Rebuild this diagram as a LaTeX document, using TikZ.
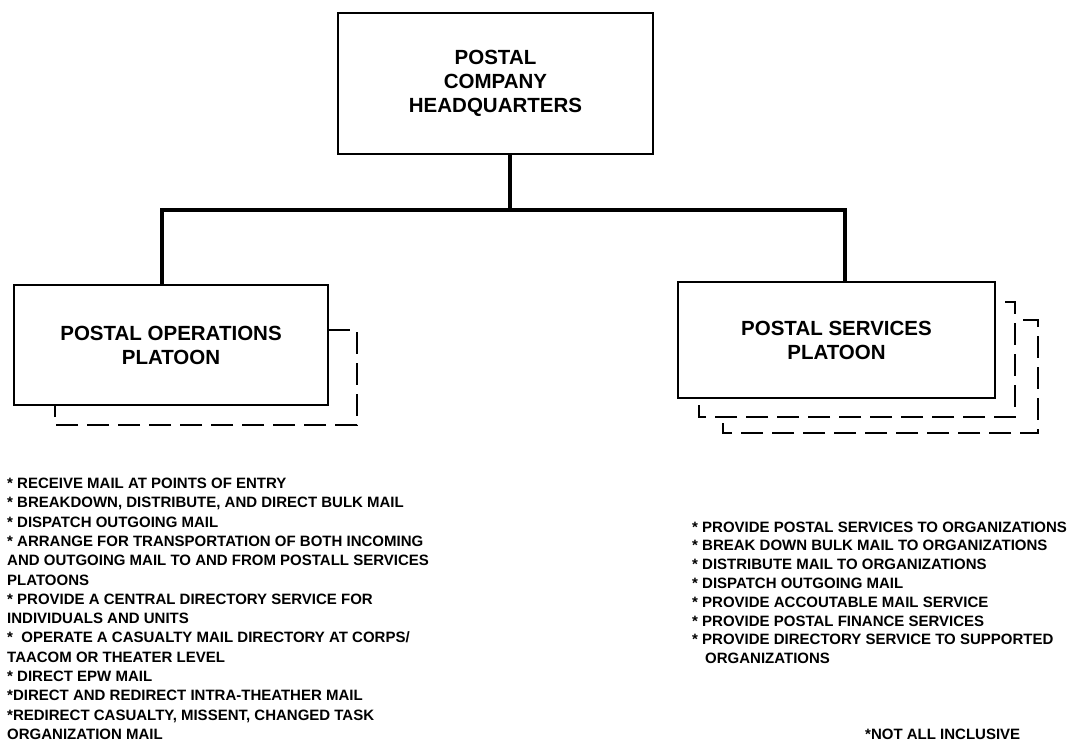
\documentclass[tikz,border=0pt]{standalone}
\usepackage{fontspec}
\setmainfont{Liberation Sans}
\begin{document}
\begin{tikzpicture}[x=1pt,y=-1pt,
  box/.style={draw,line width=2.4pt,inner sep=0pt,align=center,
    font=\bfseries\fontsize{20.5}{24}\selectfont},
  conn/.style={line width=4.2pt,line cap=rect},
  ghost/.style={line width=2pt,dash pattern=on 22pt off 9pt},
  item/.style={anchor=base west,inner sep=0pt,
    font=\bfseries\fontsize{15}{18}\selectfont}]
\useasboundingbox (0,0) rectangle (1084,743);
\clip (0,0) rectangle (1084,743);

% organisation boxes
\node[box,minimum width=315pt,minimum height=141pt] (hq) at (495.5,83.5)
  {POSTAL\\COMPANY\\HEADQUARTERS};
\node[box,minimum width=314pt,minimum height=120pt] (ops) at (171,345)
  {POSTAL OPERATIONS\\PLATOON};
\node[box,line width=2.1pt,minimum width=317pt,minimum height=116pt] (svc) at (836.5,340)
  {POSTAL SERVICES\\PLATOON};

% connector tree
\coordinate (j) at (510,210);
\coordinate (lc) at (162,210);
\coordinate (rc) at (845,210);
\draw[conn] (hq.south -| j) -- (j);
\draw[conn] (ops.north -| lc) -- (lc) -- (rc) -- (svc.north -| rc);

% dashed outlines behind the platoons
\coordinate (oa) at (328,330);
\coordinate (ob) at (357,330);
\coordinate (oc) at (357,425);
\coordinate (od) at (55,425);
\draw[ghost] (oa) -- (ob) -- (oc) -- (od) -- (ops.south -| od);

\coordinate (sa) at (1005,302);
\coordinate (sb) at (1015,302);
\coordinate (sc) at (1015,417);
\coordinate (sd) at (699,417);
\coordinate (se) at (699,405);
\draw[ghost] (sa) -- (sb) -- (sc) -- (sd) -- (se);

\coordinate (ta) at (1023,320);
\coordinate (tb) at (1038,320);
\coordinate (tc) at (1038,433);
\coordinate (td) at (723,433);
\coordinate (te) at (723,423);
\draw[ghost] (ta) -- (tb) -- (tc) -- (td) -- (te);

% duties of the operations platoon
\node[item] (o1) at (7,488.5) {* RECEIVE MAIL AT POINTS OF ENTRY};
\node[item] (o2) at (7,507.8) {* BREAKDOWN, DISTRIBUTE, AND DIRECT BULK MAIL};
\node[item] (o3) at (7,527.1) {* DISPATCH OUTGOING MAIL};
\node[item] (o4) at (7,546.4) {* ARRANGE FOR TRANSPORTATION OF BOTH INCOMING};
\node[item] (o5) at (7,565.7) {AND OUTGOING MAIL TO AND FROM POSTALL SERVICES};
\node[item] (o6) at (7,585.0) {PLATOONS};
\node[item] (o7) at (7,604.3) {* PROVIDE A CENTRAL DIRECTORY SERVICE FOR};
\node[item] (o8) at (7,623.6) {INDIVIDUALS AND UNITS};
\node[item] (o9) at (7,642.9) {*\ \ OPERATE A CASUALTY MAIL DIRECTORY AT CORPS/};
\node[item] (o10) at (7,662.2) {TAACOM OR THEATER LEVEL};
\node[item] (o11) at (7,681.5) {* DIRECT EPW MAIL};
\node[item] (o12) at (7,700.8) {*DIRECT AND REDIRECT INTRA-THEATHER MAIL};
\node[item] (o13) at (7,720.1) {*REDIRECT CASUALTY, MISSENT, CHANGED TASK};
\node[item] (o14) at (7,739.4) {ORGANIZATION MAIL};

% duties of the services platoon
\node[item] (s1) at (692,532) {* PROVIDE POSTAL SERVICES TO ORGANIZATIONS};
\node[item] (s2) at (692,550.8) {* BREAK DOWN BULK MAIL TO ORGANIZATIONS};
\node[item] (s3) at (692,569.6) {* DISTRIBUTE MAIL TO ORGANIZATIONS};
\node[item] (s4) at (692,588.4) {* DISPATCH OUTGOING MAIL};
\node[item] (s5) at (692,607.2) {* PROVIDE ACCOUTABLE MAIL SERVICE};
\node[item] (s6) at (692,626) {* PROVIDE POSTAL FINANCE SERVICES};
\node[item] (s7) at (692,644.8) {* PROVIDE DIRECTORY SERVICE TO SUPPORTED};
\node[item] (s8) at (705,663.6) {ORGANIZATIONS};

\node[item] (note) at (865,739.4) {*NOT ALL INCLUSIVE};
\end{tikzpicture}
\end{document}
